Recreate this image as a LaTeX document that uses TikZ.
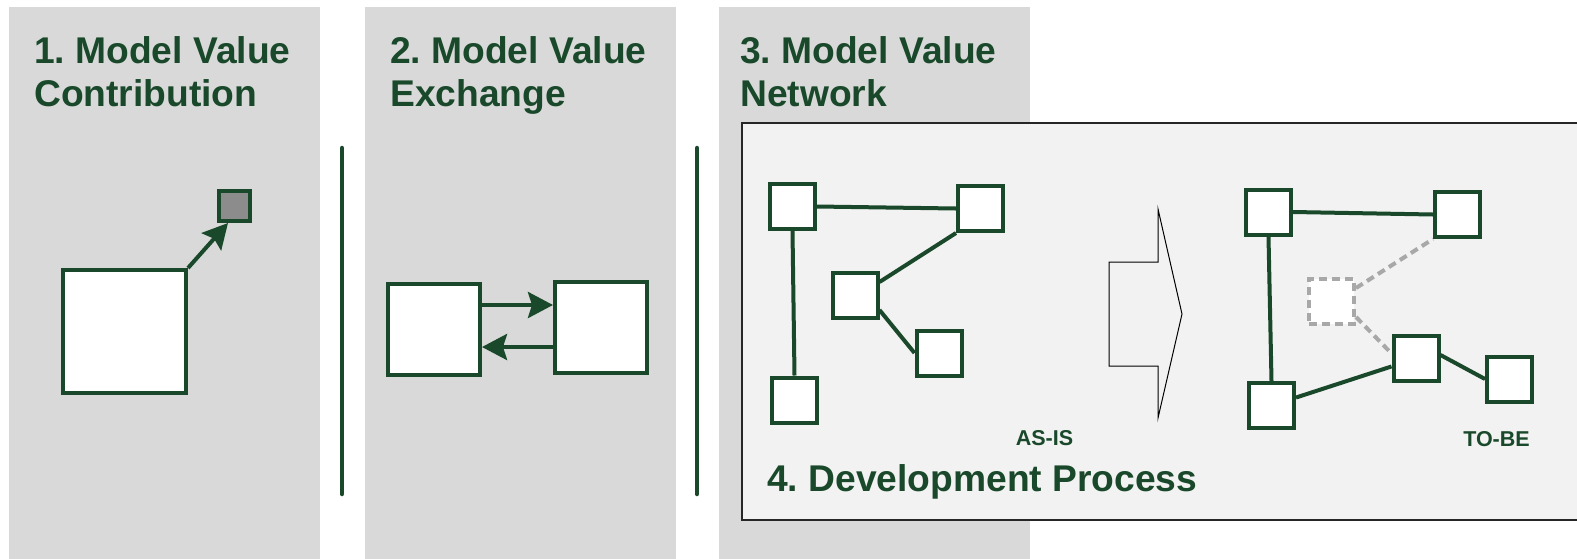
\documentclass[tikz,border=0pt]{standalone}
\usepackage{fontspec}
\setmainfont{Liberation Sans}
\usetikzlibrary{arrows.meta,calc}
\definecolor{dg}{RGB}{25,73,42}
\definecolor{panelgray}{RGB}{217,217,217}
\definecolor{procbg}{RGB}{242,242,242}
\definecolor{smallgray}{RGB}{140,140,140}
\definecolor{dashgray}{RGB}{168,168,168}
\frenchspacing
\begin{document}
\begin{tikzpicture}[x=1pt,y=-1pt,
  panel/.style={fill=panelgray, draw=none},
  title/.style={font=\fontsize{37.2}{40}\selectfont\bfseries, text=dg, inner sep=0pt, anchor=base west},
  smalllabel/.style={font=\fontsize{21.5}{24}\selectfont\bfseries, text=dg, inner sep=0pt, anchor=base},
  nbox/.style={draw=dg, line width=4pt, fill=white, inner sep=0pt, minimum width=45pt, minimum height=45pt},
  dbox/.style={draw=dashgray, line width=4pt, fill=white, inner sep=0pt, minimum width=45pt, minimum height=45pt, dash pattern=on 8pt off 5pt},
  link/.style={draw=dg, line width=4pt},
  dlink/.style={draw=dashgray, line width=4pt, dash pattern=on 8pt off 5pt},
  arr/.style={draw=dg, line width=4pt, -{Stealth[length=25pt, width=26pt, inset=4pt]}},
  divider/.style={draw=dg, line width=4.5pt, line cap=round}
]
\path[use as bounding box] (0,0) rectangle (1577,558);
\clip (0,0) rectangle (1577,558);
\fill[white] (0,0) rectangle (1577,558);

% panels
\path[panel] (9,7) rectangle (320,560);
\path[panel] (365,7) rectangle (676,560);
\path[panel] (719,7) rectangle (1030,560);

% titles
\node[title] (t1a) at (34,63) {1. Model Value};
\node[title] (t1b) at (34,106) {Contribution};
\node[title] (t2a) at (390,63) {2. Model Value};
\node[title] (t2b) at (390,106) {Exchange};
\node[title] (t3a) at (740,63) {3. Model Value};
\node[title] (t3b) at (740,106) {Network};

% dividers
\coordinate (d1a) at (342,148);
\coordinate (d1b) at (342,494);
\coordinate (d2a) at (697,148);
\coordinate (d2b) at (697,494);
\draw[divider] (d1a) -- (d1b);
\draw[divider] (d2a) -- (d2b);

% panel 1
\node[nbox, minimum width=123pt, minimum height=123pt] (big) at (124.5,331.5) {};
\node[nbox, fill=smallgray, minimum width=31pt, minimum height=30pt] (small) at (234.5,206) {};
\draw[arr] (big.north east) -- ($(small.south west)+(11,0)$);

% panel 2
\node[nbox, minimum width=92pt, minimum height=91pt] (L) at (434,329.5) {};
\node[nbox, minimum width=92pt, minimum height=91pt] (R) at (601,327) {};
\draw[arr] ($(L.east)+(0,-24.5)$) -- ($(R.west)+(0,-22)$);
\draw[arr] ($(R.west)+(0,20)$) -- ($(L.east)+(0,17.5)$);

% development process box
\draw[fill=procbg, draw=black!85, line width=1.6pt] (742,123) rectangle (1600,520);

% AS-IS network
\node[nbox] (n1) at (792.5,206.5) {};
\node[nbox] (n2) at (980.5,208.5) {};
\node[nbox] (n3) at (855,295) {};
\node[nbox] (n4) at (939,353) {};
\node[nbox] (n5) at (794.5,400) {};
\draw[link] (n1.east) -- (n2.west);
\draw[link] (n1.south) -- (n5.north);
\draw[link] ($(n3.east)+(0,-13)$) -- (n2.south west);
\draw[link] ($(n3.east)+(0,15)$) -- (n4.west);

% block arrow
\draw[fill=procbg, draw=black, line width=1pt] (1109,262) -- (1158,262) -- (1158,209) -- (1182,314) -- (1158,418) -- (1158,366) -- (1109,366) -- cycle;

% TO-BE network
\node[nbox] (m1) at (1268.5,212) {};
\node[nbox] (m2) at (1457.5,214.5) {};
\node[dbox] (m3) at (1331.5,301) {};
\node[nbox] (m4) at (1416,358.5) {};
\node[nbox] (m5) at (1509.5,379) {};
\node[nbox] (m6) at (1271.5,405.5) {};
\draw[link] (m1.east) -- (m2.west);
\draw[link] (m1.south) -- (m6.north);
\draw[link] (m6) -- (m4);
\draw[link] ($(m4.east)+(0,-3.5)$) -- (m5.west);
\draw[dlink] ($(m3.east)+(0,-13)$) -- (m2.south west);
\draw[dlink] ($(m3.east)+(0,16)$) -- ($(m4.west)+(0,-5)$);

% labels
\node[smalllabel] (asis) at (1044.5,445) {AS-IS};
\node[smalllabel] (tobe) at (1496.5,446) {TO-BE};
\node[title] (t4) at (767,491) {4. Development Process};
\end{tikzpicture}
\end{document}
